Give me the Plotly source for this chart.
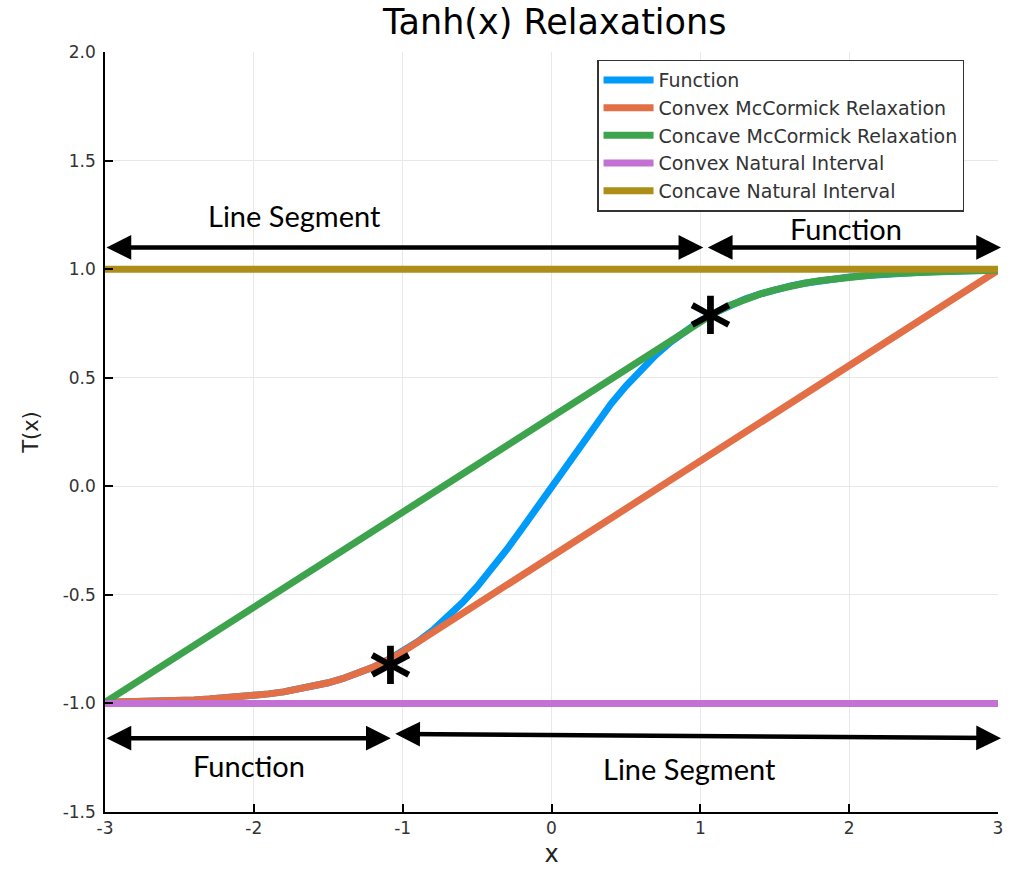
import plotly.graph_objects as go

# ---- data ----
x_vals = [-3.0, -2.9, -2.8, -2.7, -2.6, -2.5, -2.4, -2.3, -2.2, -2.1, -2.0,
          -1.9, -1.8, -1.7, -1.6, -1.5, -1.4, -1.3, -1.2, -1.1, -1.0,
          -0.9, -0.8, -0.7, -0.6, -0.5, -0.4, -0.3, -0.2, -0.1, 0.0,
          0.1, 0.2, 0.3, 0.4, 0.5, 0.6, 0.7, 0.8, 0.9, 1.0,
          1.1, 1.2, 1.3, 1.4, 1.5, 1.6, 1.7, 1.8, 1.9, 2.0,
          2.1, 2.2, 2.3, 2.4, 2.5, 2.6, 2.7, 2.8, 2.9, 3.0]
func_vals = [-0.995, -0.994, -0.993, -0.991, -0.989, -0.987, -0.984, -0.980, -0.976, -0.970, -0.964,
             -0.956, -0.947, -0.935, -0.922, -0.905, -0.885, -0.862, -0.834, -0.800, -0.762,
             -0.716, -0.664, -0.604, -0.537, -0.462, -0.380, -0.291, -0.197, -0.100, 0.000,
             0.100, 0.197, 0.291, 0.380, 0.462, 0.537, 0.604, 0.664, 0.716, 0.762,
             0.800, 0.834, 0.862, 0.885, 0.905, 0.922, 0.935, 0.947, 0.956, 0.964,
             0.970, 0.976, 0.980, 0.984, 0.987, 0.989, 0.991, 0.993, 0.994, 0.995]

# convex McCormick: follows function up to the tangent point, then a line segment
cvx_x = [-3.0, -2.9, -2.8, -2.7, -2.6, -2.5, -2.4, -2.3, -2.2, -2.1, -2.0,
         -1.9, -1.8, -1.7, -1.6, -1.5, -1.4, -1.3, -1.2, -1.1, -1.0, 3.0]
cvx_y = [-0.995, -0.994, -0.993, -0.991, -0.989, -0.987, -0.984, -0.980, -0.976, -0.970, -0.964,
         -0.956, -0.947, -0.935, -0.922, -0.905, -0.885, -0.862, -0.834, -0.800, -0.762, 0.995]
# concave McCormick: line segment up to the tangent point, then follows function
ccv_x = [-3.0, 1.0, 1.1, 1.2, 1.3, 1.4, 1.5, 1.6, 1.7, 1.8, 1.9, 2.0,
         2.1, 2.2, 2.3, 2.4, 2.5, 2.6, 2.7, 2.8, 2.9, 3.0]
ccv_y = [-0.995, 0.762, 0.800, 0.834, 0.862, 0.885, 0.905, 0.922, 0.935, 0.947, 0.956, 0.964,
         0.970, 0.976, 0.980, 0.984, 0.987, 0.989, 0.991, 0.993, 0.994, 0.995]
nat_x = [-3.0, 3.0]
nat_lo = [-1.0, -1.0]
nat_hi = [1.0, 1.0]

series_names = ["Function", "Convex McCormick Relaxation", "Concave McCormick Relaxation",
                "Convex Natural Interval", "Concave Natural Interval"]
colors = ["#009AF9", "#E26F46", "#3DA44D", "#C371D2", "#AC8E18"]

x_ticks = [-3, -2, -1, 0, 1, 2, 3]
x_tick_text = ["-3", "-2", "-1", "0", "1", "2", "3"]
y_ticks = [-1.5, -1.0, -0.5, 0.0, 0.5, 1.0, 1.5, 2.0]
y_tick_text = ["-1.5", "-1.0", "-0.5", "0.0", "0.5", "1.0", "1.5", "2.0"]

# annotation arrows: (x_start, y_start, x_end, y_end)
arrows = [(-3.0, 1.10, 1.02, 1.10), (1.04, 1.10, 3.02, 1.10),
          (-3.0, -1.16, -1.08, -1.16), (-1.06, -1.14, 3.02, -1.16)]
labels = [("Line Segment", -1.73, 1.245), ("Function", 1.98, 1.185),
          ("Function", -2.03, -1.285), ("Line Segment", 0.93, -1.30)]
stars = [(-1.08, -0.80), (1.07, 0.81)]

fig = go.Figure()
trace_data = [(x_vals, func_vals), (cvx_x, cvx_y), (ccv_x, ccv_y), (nat_x, nat_lo), (nat_x, nat_hi)]
for i, (xs, ys) in enumerate(trace_data):
    fig.add_trace(go.Scatter(x=xs, y=ys, mode="lines", name=series_names[i],
                             line=dict(color=colors[i], width=7),
                             legendgroup=f"g{i}"))

for (x0, y0, x1, y1) in arrows:
    fig.add_annotation(x=x1, y=y1, ax=x0, ay=y0, xref="x", yref="y", axref="x", ayref="y",
                       text="", showarrow=True, arrowhead=2, arrowside="end+start",
                       arrowsize=1.1, arrowwidth=4.5, arrowcolor="black")
for (t, x, y) in labels:
    fig.add_annotation(x=x, y=y, xref="x", yref="y", text=t, showarrow=False,
                       font=dict(family="Lato", size=29, color="black"))
for (x, y) in stars:
    fig.add_annotation(x=x, y=y, xref="x", yref="y", text="<b>*</b>", showarrow=False,
                       yshift=-18,
                       font=dict(family="DejaVu Sans", size=82, color="black"))

axis_common = dict(showline=True, linecolor="black", linewidth=1.5, mirror=False,
                   ticks="inside", ticklen=8, tickwidth=1.5, tickcolor="black",
                   showgrid=True, gridcolor="#e8e8e8", gridwidth=1, zeroline=False,
                   tickfont=dict(family="DejaVu Sans", size=17, color="#333333"))

fig.update_layout(
    width=1015, height=875,
    margin=dict(l=105, r=14, t=52, b=62),
    paper_bgcolor="white", plot_bgcolor="white",
    title=dict(text="Tanh(x) Relaxations", x=0.5465, xanchor="center", y=0.975, yanchor="middle",
               font=dict(family="DejaVu Sans", size=35, color="black")),
    xaxis=dict(range=[-3, 3], tickvals=x_ticks, ticktext=x_tick_text,
               title=dict(text="x", standoff=8,
                          font=dict(family="DejaVu Sans", size=24, color="#222222")), **axis_common),
    yaxis=dict(range=[-1.5, 2.0], tickvals=y_ticks, ticktext=y_tick_text, ticklabelstandoff=4,
               title=dict(text="T(x)", standoff=18,
                          font=dict(family="DejaVu Sans", size=21, color="#222222")), **axis_common),
    legend=dict(x=0.551, y=0.99, xanchor="left", yanchor="top",
                bgcolor="white", bordercolor="#333333", borderwidth=1.5,
                font=dict(family="DejaVu Sans", size=19, color="#333333"),
                itemwidth=50, tracegroupgap=0),
    showlegend=True,
)

fig.write_html("out.html")
